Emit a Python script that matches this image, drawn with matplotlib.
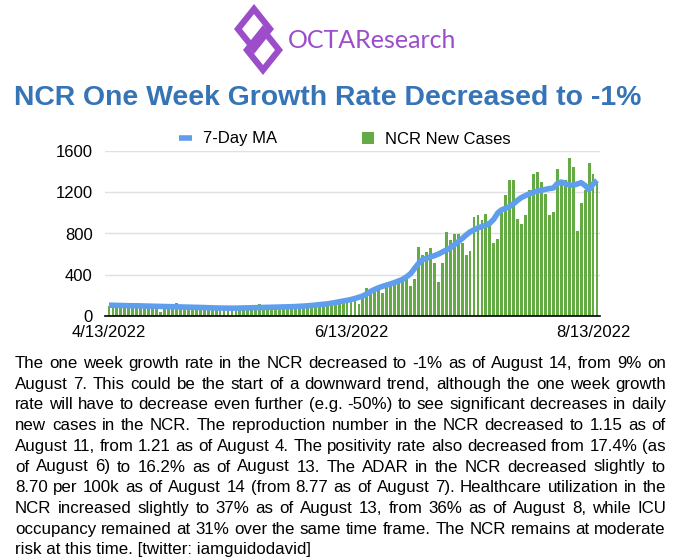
import pandas as pd
import numpy as np
import matplotlib
matplotlib.use("Agg")
import matplotlib.pyplot as plt
from matplotlib.patches import Polygon

# daily data, 4/13/2022 .. 8/14/2022
dates = pd.date_range("2022-04-13", "2022-08-14", freq="D")
new_cases = [
    100, 95, 98, 92, 96, 100, 94, 125, 95, 92,
    96, 90, 94, 40, 88, 92, 86, 130, 88, 84,
    86, 80, 84, 78, 82, 76, 78, 74, 76, 72,
    75, 72, 76, 74, 78, 76, 80, 78, 120, 80,
    84, 82, 86, 84, 88, 86, 90, 92, 96, 94,
    100, 104, 108, 110, 116, 118,
    120, 126, 132, 128,
    140, 145, 150, 112, 190, 272, 240, 255, 270, 220,
    285, 315, 345, 355, 380, 360, 289, 360,
    670, 590,
    618, 660, 518, 334, 512, 812, 740, 795, 795, 705,
    590, 630, 960, 980, 930, 985, 880, 710, 742, 1040,
    1170, 1323, 1323, 937, 889, 976, 1218, 1380, 1393, 1299,
    1186, 979, 1008, 1425, 1315, 1315, 1529, 1445, 824, 1099,
    1218, 1487, 1380, 1299,
]
ma_7day = [
    105, 104, 103, 102, 101, 100, 99, 99, 98, 97,
    96, 95, 94, 93, 92, 91, 90, 89, 88, 87,
    86, 85, 84, 83, 82, 80, 79, 78, 77, 77,
    76, 76, 76, 77, 78, 79, 80, 81, 82, 83,
    84, 85, 86, 87, 88, 89, 90, 92, 94, 96,
    99, 102, 106, 110, 114, 118, 124, 130, 138, 145,
    152, 160, 170, 182, 195, 215, 240, 258, 275, 288,
    300, 312, 325, 340, 355, 380, 410, 460, 510, 545,
    560, 572, 585, 600, 620, 640, 660, 690, 720, 750,
    785, 815, 835, 855, 868, 880, 900, 940, 1000, 1030,
    1045, 1063, 1090, 1123, 1150, 1168, 1186, 1200, 1213, 1220,
    1228, 1236, 1241, 1285, 1299, 1283, 1270, 1267, 1280, 1293,
    1265, 1225, 1280, 1315,
]
yticks = [0, 400, 800, 1200, 1600]
xtick_labels = ["4/13/2022", "6/13/2022", "8/13/2022"]

title = "NCR One Week Growth Rate Decreased to -1%"
body_lines = [
    "The one week growth rate in the NCR decreased to -1% as of August 14, from 9% on",
    "August 7. This could be the start of a downward trend, although the one week growth",
    "rate will have to decrease even further (e.g. -50%) to see significant decreases in daily",
    "new cases in the NCR. The reproduction number in the NCR decreased to 1.15 as of",
    "August 11, from 1.21 as of August 4. The positivity rate also decreased from 17.4% (as",
    "of August 6) to 16.2% as of August 13. The ADAR in the NCR decreased slightly to",
    "8.70 per 100k as of August 14 (from 8.77 as of August 7). Healthcare utilization in the",
    "NCR increased slightly to 37% as of August 13, from 36% as of August 8, while ICU",
    "occupancy remained at 31% over the same time frame. The NCR remains at moderate",
    "risk at this time. [twitter: iamguidodavid]",
]

W, H = 680, 560
plt.rcParams["font.family"] = ["Liberation Sans", "DejaVu Sans"]
fig = plt.figure(figsize=(W / 100, H / 100), dpi=100)

# background layer in pixel coords for logo, title, text
bg = fig.add_axes([0, 0, 1, 1])
bg.set_xlim(0, W)
bg.set_ylim(H, 0)
bg.axis("off")
purple = "#9b4dca"
# two interlocked diamonds
for cx, cy in ((254, 29), (263, 50)):
    bg.add_patch(Polygon([(cx, cy - 20), (cx + 16, cy), (cx, cy + 20), (cx - 16, cy)],
                         closed=True, fill=False, edgecolor=purple, lw=4.5,
                         joinstyle="miter"))
bg.text(288, 40.5, "OCTAResearch", color=purple, fontsize=18, family="Lato",
        va="center", ha="left")
bg.text(328, 98, title, color="#3674b5", fontsize=20.4, fontweight="bold",
        va="center", ha="center")

# chart
x = np.arange(len(dates))
ax = fig.add_axes([105 / W, 1 - 316 / H, 495 / W, 165 / H])
ax.plot(x, ma_7day, color="#5f9eec", lw=4, label="7-Day MA", zorder=3,
        solid_capstyle="butt")
ax.bar(x, new_cases, width=0.72, color="#64ab45", label="NCR New Cases", zorder=2)
ax.set_xlim(-1.0, len(dates) - 0.25)
ax.set_ylim(0, 1600)
ax.set_yticks(yticks)
ax.yaxis.grid(True, color="#e0e0e0", lw=1, zorder=0)
ax.set_axisbelow(True)
tick_pos = [list(dates.strftime("%-m/%-d/%Y")).index(t) for t in xtick_labels]
ax.set_xticks(tick_pos)
ax.set_xticklabels(xtick_labels)
ax.tick_params(axis="both", length=0, labelsize=12)
ax.tick_params(axis="y", pad=9)
ax.tick_params(axis="x", pad=6.5)
for s in ("left", "right", "top"):
    ax.spines[s].set_visible(False)
ax.spines["bottom"].set_color("black")
ax.spines["bottom"].set_linewidth(1.2)

h, l = ax.get_legend_handles_labels()
fig.legend(h, l, loc="center", bbox_to_anchor=(345 / W, 1 - 139 / H),
           ncol=2, frameon=False, fontsize=12, handlelength=0.75, handleheight=0.7,
           handletextpad=0.65, columnspacing=5.1)

# justified paragraph
fs = 12.2
x0, x1 = 15, 666
renderer = fig.canvas.get_renderer()
for k, line in enumerate(body_lines):
    yb = 368 + k * 20.7
    if k == len(body_lines) - 1:
        bg.text(x0, yb, line, fontsize=fs, va="baseline", ha="left")
        continue
    words = line.split(" ")
    objs = [bg.text(0, yb, w, fontsize=fs, va="baseline", ha="left") for w in words]
    widths = [o.get_window_extent(renderer).width for o in objs]
    gap = (x1 - x0 - sum(widths)) / (len(words) - 1)
    pos = x0
    for o, w in zip(objs, widths):
        o.set_x(pos)
        pos += w + gap

fig.savefig("out.png", dpi=100)
